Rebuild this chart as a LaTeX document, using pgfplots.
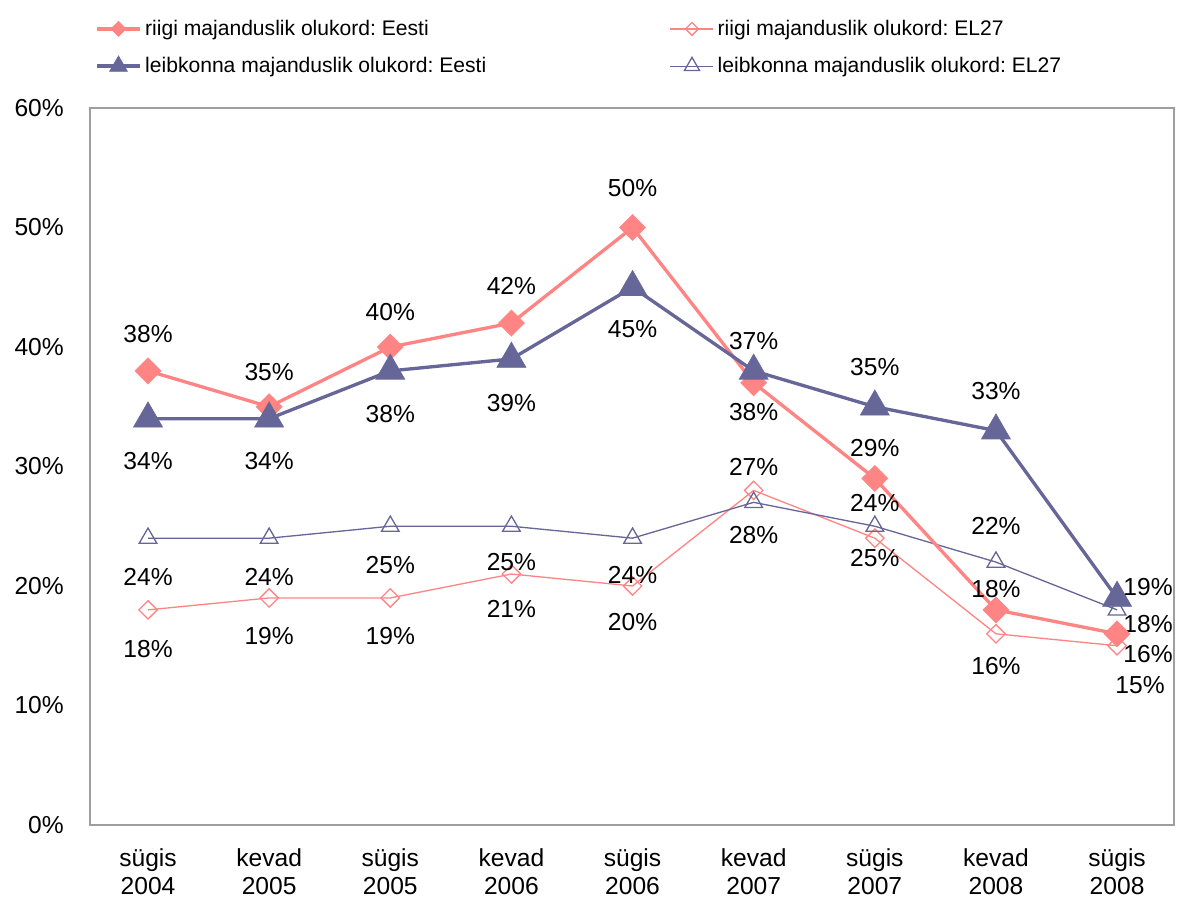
\documentclass[border=0pt]{standalone}
\usepackage{pgfplots}
\pgfplotsset{compat=1.18}
\usepackage{pgfplotstable}
\usepackage{fontspec}
\setmainfont{Liberation Sans}
\frenchspacing
\definecolor{riigi}{HTML}{FF8585}
\definecolor{leib}{HTML}{666699}

\pgfplotstableread{
x y dx dy
0 38 0 37
1 35 0 35
2 40 0 35
3 42 0 37
4 50 0 39
5 37 0 42
6 29 0 30
7 18 0 21
8 16 31 -20
}\riigiEesti
\pgfplotstableread{
x y dx dy
0 18 0 -39
1 19 0 -38
2 19 0 -38
3 21 0 -35
4 20 0 -36
5 28 0 -45
6 24 0 35
7 16 0 -32
8 15 23 -39
}\riigiEL
\pgfplotstableread{
x y dx dy
0 34 0 -42
1 34 0 -42
2 38 0 -43
3 39 0 -44
4 45 0 -42
5 38 0 -41
6 35 0 40
7 33 0 40
8 19 31 11
}\leibEesti
\pgfplotstableread{
x y dx dy
0 24 0 -39
1 24 0 -39
2 25 0 -39
3 25 0 -36
4 24 0 -37
5 27 0 35
6 25 0 -32
7 22 0 36
8 18 31 -14
}\leibEL

\begin{document}
\begin{tikzpicture}
\begin{axis}[
  name=ax, scale only axis, width=21.68cm, height=14.34cm,
  xmin=-0.479, xmax=8.47, ymin=0, ymax=60,
  xtick={0,...,8},
  xticklabels={{sügis\\2004},{kevad\\2005},{sügis\\2005},{kevad\\2006},{sügis\\2006},{kevad\\2007},{sügis\\2007},{kevad\\2008},{sügis\\2008}},
  ytick={0,10,...,60},
  yticklabel={\pgfmathprintnumber{\tick}\%},
  major tick length=0pt,
  axis line style={draw=black!38, line width=1.2pt},
  tick label style={font=\fontsize{14}{16}\selectfont, text=black},
  xticklabel style={align=center, yshift=-0.34cm},
  yticklabel style={xshift=-0.4cm},
  /pgf/number format/assume math mode=true,
  nodes near coords={\pgfmathprintnumber{\pgfplotspointmeta}\%},
  point meta=y,
  visualization depends on={\thisrow{dx} \as \dx},
  visualization depends on={\thisrow{dy} \as \dy},
  nodes near coords style={font=\fontsize{14}{16}\selectfont, anchor=center, xshift=\dx*0.02cm, yshift=\dy*0.02cm, text=black, inner sep=0pt},
  legend columns=2,
  legend cell align=left,
  legend image code/.code={\draw[mark repeat=2,mark phase=2,#1] plot coordinates {(0cm,0cm) (0.43cm,0cm) (0.86cm,0cm)};},
  legend style={at={(0,1)}, anchor=south west, xshift=0.1cm, yshift=0.58cm, draw=none, fill=none, inner sep=0pt,
    font=\fontsize{12}{14}\selectfont, row sep=7pt,
    /tikz/every even column/.append style={column sep=3.6cm}},
]
\addlegendimage{riigi, line width=1.9pt, mark=square*, mark size=3pt, mark options={rotate=45, solid, line width=0.4pt, fill=riigi}}
\addlegendentry{riigi majanduslik olukord: Eesti}
\addlegendimage{riigi, line width=0.75pt, mark=square, mark size=2.6pt, mark options={rotate=45, solid, line width=0.75pt, fill=white}}
\addlegendentry{riigi majanduslik olukord: EL27}
\addlegendimage{leib, line width=1.9pt, mark=triangle*, mark size=5.8pt, mark options={solid, line width=0.4pt, fill=leib}}
\addlegendentry{leibkonna majanduslik olukord: Eesti}
\addlegendimage{leib, line width=0.75pt, mark=triangle, mark size=5pt, mark options={solid, line width=0.75pt, fill=white}}
\addlegendentry{leibkonna majanduslik olukord: EL27}

\addplot[forget plot, riigi, line width=0.75pt, mark=square, mark size=3.7pt, mark options={rotate=45, solid, line width=0.75pt, fill=white}] table[x=x,y=y] {\riigiEL};
\addplot[forget plot, leib, line width=0.75pt, mark=triangle, mark size=5.8pt, mark options={solid, line width=0.75pt, fill=white}] table[x=x,y=y] {\leibEL};
\addplot[forget plot, riigi, line width=1.9pt, mark=square*, mark size=5.2pt, mark options={rotate=45, solid, line width=0.4pt, fill=riigi}] table[x=x,y=y] {\riigiEesti};
\addplot[forget plot, leib, line width=1.9pt, mark=triangle*, mark size=9.5pt, mark options={solid, line width=0.4pt, fill=leib}] table[x=x,y=y] {\leibEesti};
\end{axis}
\pgfresetboundingbox
\path ([shift={(-1.8cm,-1.54cm)}]ax.south west) rectangle ([shift={(0.06cm,2.16cm)}]ax.north east);
\end{tikzpicture}
\end{document}
